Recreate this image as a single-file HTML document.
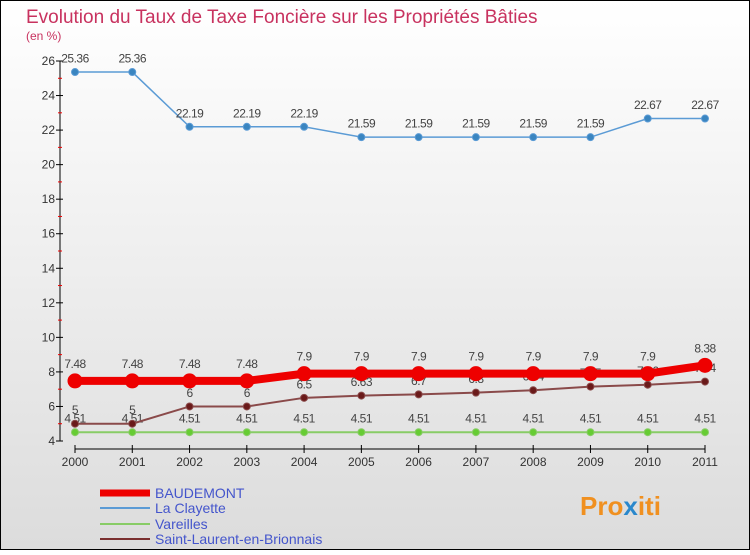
<!DOCTYPE html>
<html><head><meta charset="utf-8"><style>
body{margin:0;width:750px;height:550px;overflow:hidden;font-family:"Liberation Sans",sans-serif}
svg text{font-family:"Liberation Sans",sans-serif}
</style></head><body>
<svg id="c" width="750" height="550" xmlns="http://www.w3.org/2000/svg">
<defs><linearGradient id="bg" x1="0" y1="0" x2="0" y2="1"><stop offset="0" stop-color="#ffffff"/><stop offset="1" stop-color="#dcdcdc"/></linearGradient></defs>
<rect x="0.5" y="0.5" width="749" height="549" fill="url(#bg)" stroke="#000"/>
<text x="26" y="23" font-size="19" fill="#c8325f">Evolution du Taux de Taxe Foncière sur les Propriétés Bâties</text>
<text x="26" y="40" font-size="12" fill="#c8325f">(en %)</text>
<g id="axes"></g><g id="series"></g>
<g>
<line x1="100" y1="493" x2="150" y2="493" stroke="#ee0000" stroke-width="7"/>
<text x="155" y="498" font-size="14" fill="#4455cc">BAUDEMONT</text>
<line x1="100" y1="508" x2="150" y2="508" stroke="#5b9bd5" stroke-width="2"/>
<text x="155" y="513" font-size="14" fill="#4455cc">La Clayette</text>
<line x1="100" y1="524" x2="150" y2="524" stroke="#88cc66" stroke-width="2"/>
<text x="155" y="529" font-size="14" fill="#4455cc">Vareilles</text>
<line x1="100" y1="539" x2="150" y2="539" stroke="#7a3030" stroke-width="2"/>
<text x="155" y="544" font-size="14" fill="#4455cc">Saint-Laurent-en-Brionnais</text>
</g>
<text x="580" y="515" font-size="26" font-weight="bold" fill="#f09020">Pro<tspan fill="#2a88cc">x</tspan>iti</text>
</svg>
<script>
const years=[2000,2001,2002,2003,2004,2005,2006,2007,2008,2009,2010,2011];
const baudemont=[7.48,7.48,7.48,7.48,7.9,7.9,7.9,7.9,7.9,7.9,7.9,8.38];
const laClayette=[25.36,25.36,22.19,22.19,22.19,21.59,21.59,21.59,21.59,21.59,22.67,22.67];
const vareilles=[4.51,4.51,4.51,4.51,4.51,4.51,4.51,4.51,4.51,4.51,4.51,4.51];
const saintLaurent=[5,5,6,6,6.5,6.63,6.7,6.8,6.94,7.15,7.26,7.44];
const yTicks=[4,6,8,10,12,14,16,18,20,22,24,26];
const NS="http://www.w3.org/2000/svg";
const X=i=>75+i*(630/11);
const Y=v=>441-(v-4)*(380/22);
function mk(p,t,a){const e=document.createElementNS(NS,t);for(const k in a)e.setAttribute(k,a[k]);p.appendChild(e);return e;}
const ax=document.getElementById('axes');
let yl=mk(ax,'line',{x1:60,y1:Y(26),x2:60,y2:Y(4),stroke:'#000'});


let xl=mk(ax,'line',{x1:X(0),y1:449,x2:X(11),y2:449,stroke:'#000'});


yTicks.forEach(v=>{
 mk(ax,'line',{x1:56,y1:Y(v),x2:63,y2:Y(v),stroke:'#000'});
 if(v<26) mk(ax,'line',{x1:58,y1:Y(v+1),x2:62,y2:Y(v+1),stroke:'#e00'});
 const t=mk(ax,'text',{x:55,y:Y(v)+4,'font-size':12,'text-anchor':'end',fill:'#333'});
 t.textContent=v;
 
 
});
years.forEach((y,i)=>{
 mk(ax,'line',{x1:X(i),y1:445,x2:X(i),y2:453,stroke:'#000'});
 const t=mk(ax,'text',{x:X(i),y:466,'font-size':12,'text-anchor':'middle',fill:'#333'});
 t.textContent=y;
 
 
});
const sg=document.getElementById('series');
function series(name,vals,color,w,r,dot){
 const g=mk(sg,'g',{});
 
 
 const l=mk(g,'polyline',{points:vals.map((v,i)=>X(i)+','+Y(v)).join(' '),fill:'none',stroke:color,'stroke-width':w});
 
 
 vals.forEach((v,i)=>{
  const c=mk(g,'circle',{cx:X(i),cy:Y(v),r:r,fill:dot,stroke:color});
  
  
  const t=mk(g,'text',{x:X(i),y:Y(v)-(r+6),'font-size':12,'text-anchor':'middle',fill:'#444','letter-spacing':'-0.5'});
  t.textContent=v;
  
  
 });
}
series('vareilles',vareilles,'#88cc66',2,3.5,'#66cc33');
series('saint-laurent',saintLaurent,'#8a4a4a',2,3.5,'#6a1a1a');
series('baudemont',baudemont,'#ee0000',8,7,'#ee0000');
series('la-clayette',laClayette,'#5b9bd5',1.5,3.5,'#3a85c0');
</script>
</body></html>
